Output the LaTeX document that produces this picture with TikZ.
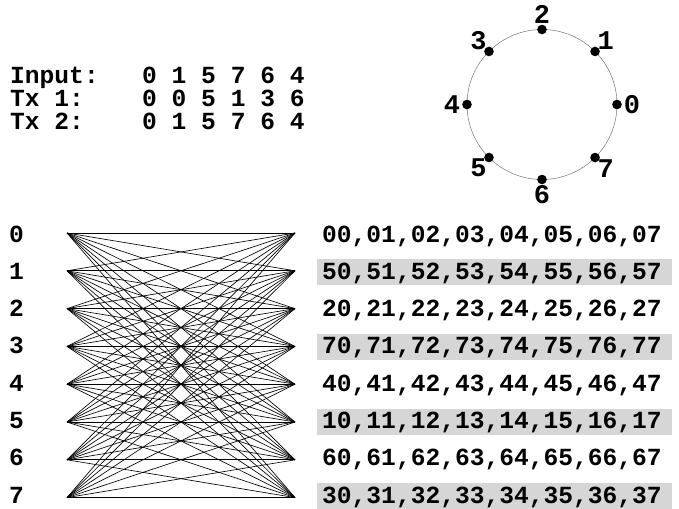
\documentclass[tikz,border=0pt]{standalone}
\usepackage{fontspec}
\setmonofont{Liberation Mono}
\usetikzlibrary{calc}
\begin{document}
\begin{tikzpicture}[x=1pt,y=-1pt,
    txt/.style={font=\ttfamily\bfseries\fontsize{24.6}{28}\selectfont, inner sep=0pt, anchor=base west,
        text height=14pt, text depth=0pt},
    ptlabel/.style={font=\ttfamily\bfseries\fontsize{27}{30}\selectfont, inner sep=0pt},
    edge/.style={line width=0.65pt},
    shade/.style={fill=black!16}]
    \useasboundingbox (0,0) rectangle (679,508);

    % Sequences
    \node[txt] (inlab) at (10,84) {Input:};
    \node[txt] (tx1lab) at (10,106.5) {Tx 1:};
    \node[txt] (tx2lab) at (10,129) {Tx 2:};
    \node[txt] (inseq) at (142,84) {0 1 5 7 6 4};
    \node[txt] (tx1seq) at (142,106.5) {0 0 5 1 3 6};
    \node[txt] (tx2seq) at (142,129) {0 1 5 7 6 4};

    % Constellation circle
    \coordinate (c) at (542,104.5);
    \draw[black!55, line width=0.5pt] (c) circle (75);
    \foreach \k in {0,...,7} {
        \fill ($(c)+(-45*\k:75)$) circle (4.8);
        \node[ptlabel] (p\k) at ($(c)+(-45*\k:90)$) {\k};
    }

    % Shaded rows
    \foreach \k in {1,3,5,7}
        \fill[shade] (317,{242+37.3*\k-20}) rectangle (672,{242+37.3*\k+6});

    % Rows and their labels
    \foreach \k/\d in {0/0,1/5,2/2,3/7,4/4,5/1,6/6,7/3} {
        \node[txt] (lab\k) at (9,{242+37.3*\k}) {\k};
        \node[txt] (row\k) at (322,{242+37.3*\k}) {\d0,\d1,\d2,\d3,\d4,\d5,\d6,\d7};
        \coordinate (L\k) at (67,{233+37.8*\k});
        \coordinate (R\k) at (295,{233+37.8*\k});
    }

    % Full set of transitions
    \foreach \i in {0,...,7}
        \foreach \j in {0,...,7}
            \draw[edge] (L\i) -- (R\j);
\end{tikzpicture}
\end{document}
